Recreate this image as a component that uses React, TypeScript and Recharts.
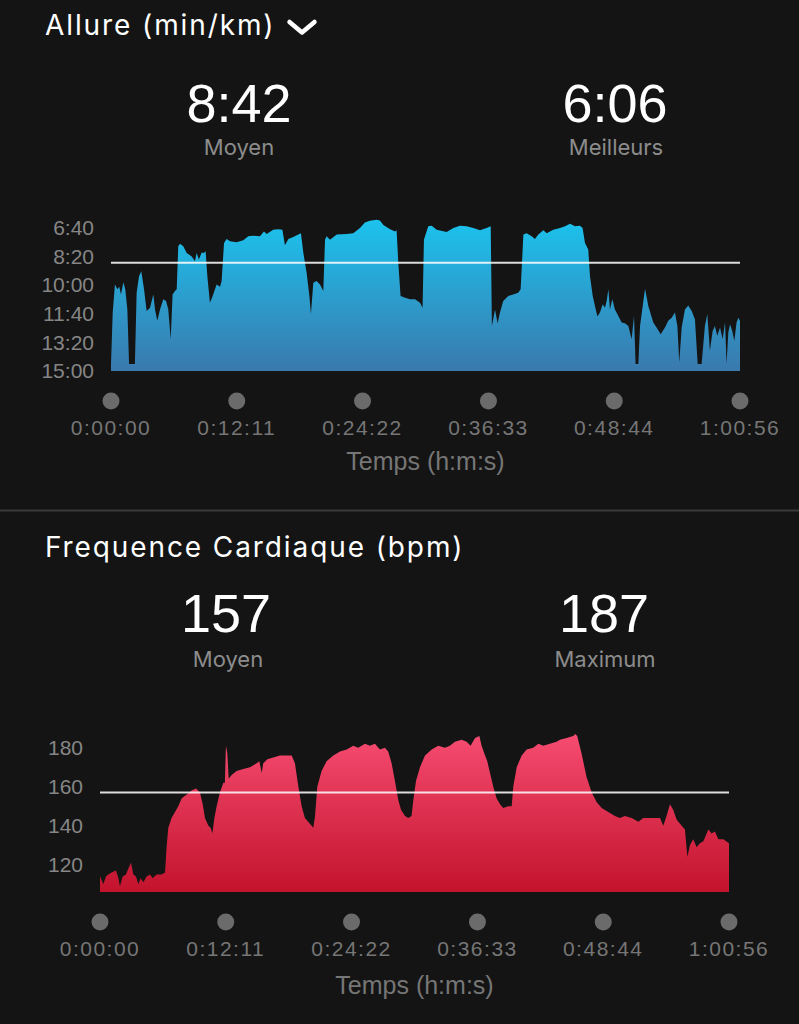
import { AreaChart, Area, XAxis, YAxis, ReferenceLine, Label } from 'recharts';

// axe du temps (secondes écoulées), commun aux deux graphes
const timeTicks = [0, 731, 1462, 2194, 2925, 3656];
const timeTickLabels = ['0:00:00', '0:12:11', '0:24:22', '0:36:33', '0:48:44', '1:00:56'];

// allure en secondes par km (axe inversé : plus bas = plus rapide)
const paceTime = [
  0, 10, 23, 37, 48, 58, 72, 83, 95, 105,
  139, 149, 163, 176, 192, 207, 227, 246, 256, 269,
  285, 304, 320, 333, 347, 358, 372, 382, 391, 401,
  420, 440, 469, 488, 498, 511, 527, 540, 550, 560,
  575, 591, 614, 634, 643, 657, 672, 692, 730, 769,
  798, 827, 866, 889, 905, 943, 973, 996, 1011, 1031,
  1060, 1089, 1104, 1118, 1137, 1153, 1162, 1176, 1195, 1215,
  1234, 1244, 1253, 1273, 1312, 1370, 1408, 1447, 1476, 1505,
  1544, 1563, 1583, 1622, 1651, 1660, 1670, 1683, 1709, 1738,
  1767, 1796, 1811, 1819, 1844, 1864, 1893, 1951, 1990, 2028,
  2067, 2106, 2145, 2183, 2207, 2214, 2232, 2247, 2261, 2280,
  2309, 2338, 2367, 2381, 2397, 2416, 2445, 2464, 2484, 2513,
  2532, 2571, 2610, 2639, 2668, 2697, 2726, 2741, 2755, 2774,
  2784, 2800, 2813, 2827, 2842, 2858, 2871, 2881, 2891, 2900,
  2914, 2929, 2949, 2968, 2987, 3007, 3026, 3040, 3049, 3065,
  3075, 3104, 3123, 3152, 3171, 3195, 3220, 3239, 3259, 3278,
  3292, 3303, 3317, 3336, 3355, 3375, 3394, 3410, 3433, 3452,
  3466, 3481, 3497, 3510, 3524, 3540, 3555, 3569, 3578, 3588,
  3598, 3611, 3623, 3636, 3646, 3656,
];
const paceValue = [
  876, 696, 598, 615, 606, 633, 590, 615, 685, 876,
  876, 627, 569, 552, 615, 691, 679, 633, 685, 725,
  685, 650, 656, 685, 789, 633, 621, 615, 465, 456,
  465, 488, 500, 517, 488, 511, 486, 488, 482, 569,
  662, 638, 598, 606, 586, 453, 439, 447, 451, 444,
  430, 428, 430, 413, 422, 407, 405, 407, 461, 439,
  432, 424, 419, 488, 557, 638, 702, 592, 586, 598,
  621, 442, 430, 442, 424, 422, 419, 401, 382, 376,
  372, 375, 390, 405, 413, 409, 523, 638, 644, 650,
  650, 662, 679, 442, 395, 393, 407, 415, 401, 393,
  395, 401, 409, 401, 395, 743, 685, 733, 696, 656,
  638, 633, 627, 615, 424, 419, 430, 439, 424, 409,
  419, 407, 401, 395, 386, 395, 393, 401, 453, 476,
  569, 638, 673, 710, 696, 667, 679, 656, 615, 685,
  650, 685, 708, 731, 733, 743, 789, 708, 876, 876,
  743, 613, 673, 731, 748, 772, 748, 725, 714, 696,
  743, 870, 748, 685, 671, 691, 719, 876, 876, 743,
  702, 829, 760, 743, 777, 748, 789, 731, 876, 766,
  737, 760, 795, 731, 714, 725,
];
const paceTicks = [400, 500, 600, 700, 800, 900];
const paceAvg = 522;
const paceBest = 366;

// fréquence cardiaque (bpm)
const hrTime = [
  0, 10, 19, 35, 48, 68, 93, 107, 116, 132,
  151, 165, 180, 194, 209, 223, 236, 252, 271, 291,
  306, 329, 358, 378, 387, 397, 416, 436, 455, 475,
  504, 533, 558, 581, 597, 610, 630, 643, 653, 665,
  678, 697, 717, 726, 732, 740, 748, 765, 794, 833,
  872, 911, 926, 940, 949, 973, 1007, 1046, 1085, 1114,
  1133, 1153, 1172, 1191, 1220, 1240, 1250, 1263, 1288, 1317,
  1356, 1395, 1434, 1472, 1501, 1540, 1569, 1598, 1627, 1656,
  1675, 1695, 1714, 1734, 1750, 1773, 1792, 1811, 1821, 1837,
  1860, 1889, 1928, 1966, 2005, 2034, 2063, 2102, 2131, 2154,
  2180, 2205, 2218, 2238, 2251, 2267, 2286, 2305, 2325, 2344,
  2373, 2393, 2402, 2422, 2451, 2480, 2518, 2548, 2577, 2615,
  2654, 2673, 2712, 2751, 2762, 2774, 2799, 2828, 2858, 2887,
  2916, 2954, 2993, 3022, 3051, 3090, 3129, 3158, 3187, 3226,
  3255, 3274, 3293, 3313, 3332, 3352, 3381, 3400, 3414, 3429,
  3448, 3468, 3487, 3507, 3536, 3555, 3574, 3594, 3623, 3656,
];
const hrValue = [
  114, 112, 110, 114, 115, 116, 117, 113, 109, 114,
  115, 118, 121, 115, 114, 110, 113, 111, 114, 115,
  113, 115, 115, 116, 129, 139, 144, 147, 150, 154,
  156, 158, 159, 157, 151, 144, 140, 139, 136, 144,
  150, 157, 162, 162, 181, 177, 164, 166, 168, 169,
  170, 172, 173, 167, 172, 174, 175, 176, 176, 176,
  172, 160, 150, 144, 141, 139, 145, 160, 168, 173,
  176, 178, 179, 181, 180, 182, 181, 182, 179, 180,
  178, 172, 163, 153, 148, 145, 144, 145, 153, 163,
  170, 176, 179, 181, 180, 181, 183, 184, 183, 181,
  185, 186, 181, 176, 173, 167, 160, 154, 151, 149,
  150, 150, 160, 170, 176, 179, 180, 182, 181, 182,
  183, 184, 185, 186, 187, 186, 177, 165, 157, 152,
  149, 147, 145, 144, 145, 144, 142, 144, 144, 144,
  144, 140, 145, 151, 148, 143, 140, 138, 124, 130,
  133, 129, 131, 132, 138, 136, 137, 133, 133, 131,
];
const hrTicks = [120, 140, 160, 180];
const hrAvg = 157;
const hrMax = 187;

const paceData = paceTime.map((t, i) => ({ t, v: paceValue[i] }));
const hrData = hrTime.map((t, i) => ({ t, v: hrValue[i] }));

const fmtPace = (s: number) => `${Math.floor(s / 60)}:${String(s % 60).padStart(2, '0')}`;

const BG = '#141414';
const SANS = 'Liberation Sans, Arial, sans-serif';
const UI = 'Inter, sans-serif';

// pastille grise + libellé sous l'axe
function TimeTick({ x, y, index }: any) {
  return (
    <g>
      <circle cx={x} cy={y + 30} r={8.5} fill="#6b6b6b" />
      <text x={x} y={y + 64} textAnchor="middle" fill="#767676" fontSize={21} fontFamily={SANS} letterSpacing={1.5}>
        {timeTickLabels[index]}
      </text>
    </g>
  );
}

const yTick = { fill: '#868686', fontSize: 21, fontFamily: SANS };

export default function App() {
  return (
    <div style={{ position: 'absolute', left: 0, top: 0, width: 799, height: 1024, background: BG, overflow: 'hidden' }}>
      <svg width={799} height={1024} style={{ position: 'absolute', left: 0, top: 0 }}>
        <text x={45} y={35} fill="#fff" fontSize={28} fontFamily={UI} letterSpacing={1.9}>Allure (min/km)</text>
        <polyline points="289.5,22 302,32.5 314.5,22" fill="none" stroke="#fff" strokeWidth={4.5} strokeLinecap="round" strokeLinejoin="round" />
        <text x={239} y={122} textAnchor="middle" fill="#fff" fontSize={54} fontFamily={SANS}>{fmtPace(paceAvg)}</text>
        <text x={239} y={155} textAnchor="middle" fill="#8c8c8c" fontSize={22} fontFamily={UI}>Moyen</text>
        <text x={615} y={122} textAnchor="middle" fill="#fff" fontSize={54} fontFamily={SANS}>{fmtPace(paceBest)}</text>
        <text x={616} y={155} textAnchor="middle" fill="#8c8c8c" fontSize={22} fontFamily={UI}>Meilleurs</text>

        <rect x={0} y={509.5} width={799} height={2} fill="#3a3a3a" />

        <text x={45} y={557} fill="#fff" fontSize={28} fontFamily={UI} letterSpacing={1.9}>Frequence Cardiaque (bpm)</text>
        <text x={226} y={632} textAnchor="middle" fill="#fff" fontSize={54} fontFamily={SANS}>{hrAvg}</text>
        <text x={228} y={667} textAnchor="middle" fill="#8c8c8c" fontSize={22} fontFamily={UI}>Moyen</text>
        <text x={604} y={632} textAnchor="middle" fill="#fff" fontSize={54} fontFamily={SANS}>{hrMax}</text>
        <text x={605} y={667} textAnchor="middle" fill="#8c8c8c" fontSize={22} fontFamily={UI}>Maximum</text>
      </svg>

      <div style={{ position: 'absolute', left: 0, top: 200 }}>
        <AreaChart width={799} height={290} data={paceData} margin={{ top: 18, right: 59, bottom: 9, left: 11 }}>
          <defs>
            <linearGradient id="paceFill" x1="0" y1="0" x2="0" y2="1">
              <stop offset="0%" stopColor="#1cc3ee" />
              <stop offset="100%" stopColor="#3a79ad" />
            </linearGradient>
          </defs>
          <XAxis
            dataKey="t"
            type="number"
            domain={[0, 3656]}
            ticks={timeTicks}
            interval={0}
            axisLine={false}
            tickLine={false}
            tickSize={0}
            tickMargin={0}
            height={110}
            tick={(p: any) => <TimeTick {...p} />}
          >
            <Label value="Temps (h:m:s)" position="insideBottom" offset={11} fill="#767676" fontSize={25} fontFamily={SANS} />
          </XAxis>
          <YAxis
            type="number"
            reversed
            domain={[366, 900]}
            ticks={paceTicks}
            interval={0}
            tickFormatter={fmtPace}
            width={100}
            axisLine={false}
            tickLine={false}
            tickSize={0}
            tickMargin={17}
            tick={yTick}
          />
          <Area type="linear" dataKey="v" baseValue={900} stroke="none" fill="url(#paceFill)" fillOpacity={1} isAnimationActive={false} />
          <ReferenceLine y={paceAvg} stroke="#ffffff" strokeOpacity={0.85} strokeWidth={2} />
        </AreaChart>
      </div>

      <div style={{ position: 'absolute', left: 0, top: 720 }}>
        <AreaChart width={799} height={290} data={hrData} margin={{ top: 14, right: 70, bottom: 8, left: 11 }}>
          <defs>
            <linearGradient id="hrFill" x1="0" y1="0" x2="0" y2="1">
              <stop offset="0%" stopColor="#f64c71" />
              <stop offset="100%" stopColor="#c3132d" />
            </linearGradient>
          </defs>
          <XAxis
            dataKey="t"
            type="number"
            domain={[0, 3656]}
            ticks={timeTicks}
            interval={0}
            axisLine={false}
            tickLine={false}
            tickSize={0}
            tickMargin={0}
            height={110}
            tick={(p: any) => <TimeTick {...p} />}
          >
            <Label value="Temps (h:m:s)" position="insideBottom" offset={8} fill="#767676" fontSize={25} fontFamily={SANS} />
          </XAxis>
          <YAxis
            type="number"
            domain={[106, 187]}
            ticks={hrTicks}
            interval={0}
            width={89}
            axisLine={false}
            tickLine={false}
            tickSize={0}
            tickMargin={17}
            tick={yTick}
          />
          <Area type="linear" dataKey="v" baseValue={106} stroke="none" fill="url(#hrFill)" fillOpacity={1} isAnimationActive={false} />
          <ReferenceLine y={hrAvg} stroke="#ffffff" strokeOpacity={0.85} strokeWidth={2} />
        </AreaChart>
      </div>
    </div>
  );
}
